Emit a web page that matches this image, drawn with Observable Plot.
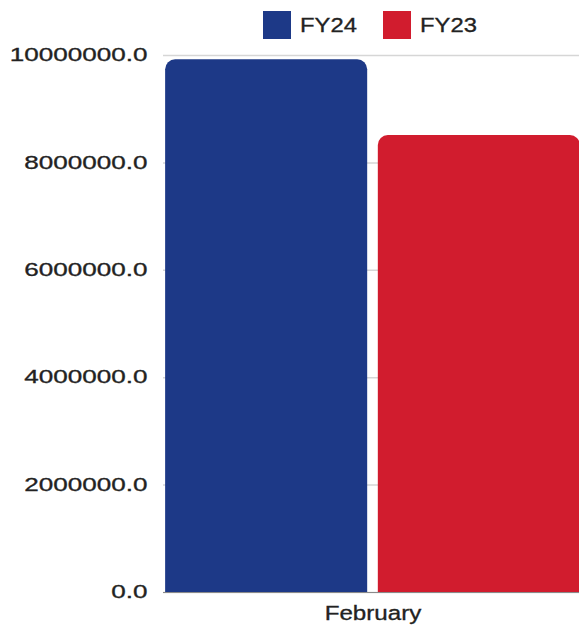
<!DOCTYPE html>
<html>
<head>
<meta charset="utf-8">
<script src="https://cdn.jsdelivr.net/npm/d3@7"></script>
<script src="https://cdn.jsdelivr.net/npm/@observablehq/plot@0.6"></script>
<style>
  html, body { margin: 0; padding: 0; background: #fff; overflow: hidden; width: 579px; height: 628px; }
  #legend { position: relative; height: 44px; font-family: "Liberation Sans", Arial, sans-serif; }
  .sw { position: absolute; top: 11px; width: 28px; height: 28px; }
  .lt { position: absolute; top: 13px; font-size: 19.5px; line-height: 24px; color: #222; -webkit-text-stroke: 0.3px #222; transform: scaleX(1.22); transform-origin: left center; white-space: nowrap; }
  #chart { width: 582px; }
  #chart svg { display: block; max-width: none !important; }
</style>
</head>
<body>
<div id="legend"></div>
<div id="chart"></div>
<script>
const months = ["February"];
const series = ["FY24", "FY23"];
const values = [9920000, 8510000];
const colors = ["#1d3987", "#d11c2e"];
const yTicks = [0, 2000000, 4000000, 6000000, 8000000, 10000000];

const rows = series.map((s, i) => ({ month: months[0], series: s, value: values[i] }));

// Legend (HTML, above the SVG)
const legend = document.getElementById("legend");
const legendLeft = [263, 383];
series.forEach((s, i) => {
  const sw = document.createElement("div");
  sw.className = "sw";
  sw.style.left = legendLeft[i] + "px";
  sw.style.background = colors[i];
  legend.appendChild(sw);
  const t = document.createElement("span");
  t.className = "lt";
  t.style.left = (legendLeft[i] + 37) + "px";
  t.textContent = s;
  legend.appendChild(t);
});

const chart = Plot.plot({
  width: 582,
  height: 584,
  marginTop: 11,
  marginBottom: 36,
  marginLeft: 163,
  marginRight: 0,
  style: { fontFamily: "'Liberation Sans', Arial, sans-serif", fontSize: "18px", color: "#222", background: "white", maxWidth: "none" },
  fx: { domain: months, padding: 0, label: null, axis: "bottom", tickSize: 0, tickPadding: 14 },
  x: { domain: series, paddingInner: 0.05, paddingOuter: 0.01, round: false, axis: null },
  y: { domain: [0, 10000000], ticks: yTicks, tickFormat: d3.format(".1f"), tickSize: 0, tickPadding: 16, label: null },
  color: { domain: series, range: colors },
  marks: [
    Plot.gridY(yTicks, { stroke: "#d6d6d6", strokeOpacity: 1, strokeWidth: 1.5 }),
    // rounded bars whose lower corners are pushed below the frame and clipped away,
    // leaving only the top corners rounded
    Plot.barY(rows, { fx: "month", x: "series", y1: -500000, y2: "value", fill: "series", rx: 10, clip: true }),
    Plot.ruleY([0], { stroke: "#8a8a8a" })
  ]
});
document.getElementById("chart").appendChild(chart);

// widen the glyphs like the reference (scale about each label's anchor)
function widen(g, k) {
  g.setAttribute("stroke", "#222");
  g.setAttribute("stroke-width", "0.3");
  g.querySelectorAll("text").forEach(t => {
    const tr = t.getAttribute("transform") || "";
    t.setAttribute("transform", (tr + ` scale(${k},1)`).trim());
  });
}
chart.querySelectorAll("g[aria-label]").forEach(g => {
  const lab = g.getAttribute("aria-label");
  if (lab === "y-axis tick label") {
    widen(g, 1.45);
  } else if (lab === "fx-axis tick label") {
    g.setAttribute("font-size", "19.5px");
    widen(g, 1.24);
  }
});
</script>
</body>
</html>
